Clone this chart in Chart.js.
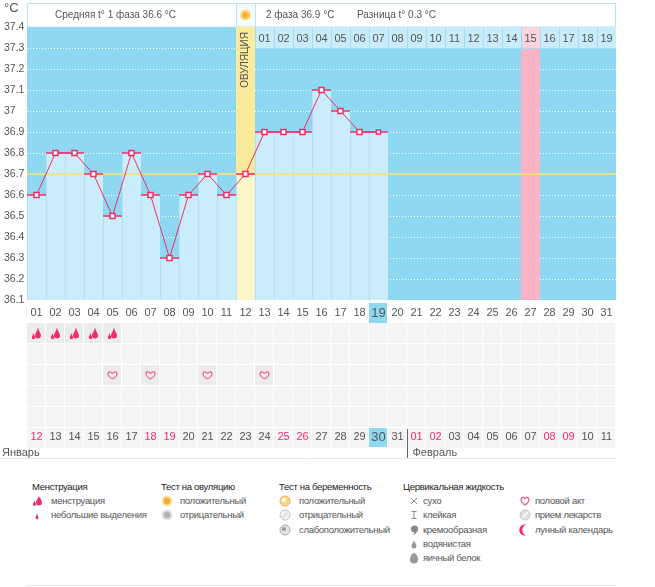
<!DOCTYPE html>
<html lang="ru">
<head>
<meta charset="utf-8">
<title>График базальной температуры</title>
<script src="https://cdn.jsdelivr.net/npm/chart.js@4.4.0/dist/chart.umd.min.js"></script>
<style>
    body { margin: 0; background: #fff; font-family: "Liberation Sans", Arial, sans-serif; }
    #wrap { position: relative; width: 655px; height: 587px; overflow: hidden; background: #fff; }
    #chartBox { position: absolute; left: 0; top: 0; width: 655px; height: 470px; }
    .unit { position: absolute; left: 4px; top: 0; font-size: 13px; line-height: 16px; color: #555; }
    .lg { position: absolute; top: 480px; font-size: 9.5px; letter-spacing: -0.3px; line-height: 14.2px; color: #555; white-space: nowrap; }
    .lg .t { color: #222; }
    .lg .i { position: relative; }
    .lg .i svg { position: absolute; top: 1px; }
    .bottomLine { position: absolute; left: 26px; top: 585px; width: 590px; height: 1px; background: #e6e6e6; }
</style>
</head>
<body>
<div id="wrap">
    <div id="chartBox"><canvas id="bbtChart"></canvas></div>
    <div class="unit">°C</div>

    <!-- Leyenda -->
    <div class="lg" style="left:32px">
        <div class="t">Менструация</div>
        <div class="i" style="padding-left:19px"><svg style="left:-1px" width="12" height="12" viewBox="0 0 12 12"><path d="M8 1C8.5 3 11 5 11 7.5A3 3 0 0 1 5 7.5C5 5 7.5 3 8 1Z" fill="#ef2f68"/><path d="M3.5 5.5C3.8 7 5 8 5 9.5A1.5 1.5 0 0 1 2 9.5C2 8 3.2 7 3.5 5.5Z" fill="#ef2f68"/></svg>менструация</div>
        <div class="i" style="padding-left:19px"><svg style="left:-1px" width="12" height="12" viewBox="0 0 12 12"><path d="M6 4.5C6.3 6 7.5 7.3 7.5 8.8A1.5 1.5 0 0 1 4.5 8.8C4.5 7.3 5.7 6 6 4.5Z" fill="#ef2f68"/></svg>небольшие выделения</div>
    </div>
    <div class="lg" style="left:161px">
        <div class="t">Тест на овуляцию</div>
        <div class="i" style="padding-left:19px"><svg style="left:0" width="12" height="12" viewBox="0 0 12 12"><circle cx="6" cy="6" r="5.5" fill="#fde3a6"/><circle cx="6" cy="6" r="3.5" fill="#f5ae38"/></svg>положительный</div>
        <div class="i" style="padding-left:19px"><svg style="left:0" width="12" height="12" viewBox="0 0 12 12"><circle cx="6" cy="6" r="5.5" fill="#e6e6e6"/><circle cx="6" cy="6" r="3.5" fill="#b3b3b3"/></svg>отрицательный</div>
    </div>
    <div class="lg" style="left:279px">
        <div class="t">Тест на беременность</div>
        <div class="i" style="padding-left:20px"><svg style="left:0" width="12" height="12" viewBox="0 0 12 12"><circle cx="6" cy="6" r="5" fill="#fcd68c" stroke="#f2b040"/><circle cx="5" cy="5" r="2" fill="#fff"/></svg>положительный</div>
        <div class="i" style="padding-left:20px"><svg style="left:0" width="12" height="12" viewBox="0 0 12 12"><circle cx="6" cy="6" r="5" fill="#f2f2f2" stroke="#c8c8c8"/><path d="M3 8L8 3M4 9L9 4" stroke="#d8d8d8"/></svg>отрицательный</div>
        <div class="i" style="padding-left:20px"><svg style="left:0" width="12" height="12" viewBox="0 0 12 12"><circle cx="6" cy="6" r="5" fill="#e4e4e4" stroke="#aaa"/><circle cx="5" cy="5" r="2" fill="#999"/></svg>слабоположительный</div>
    </div>
    <div class="lg" style="left:403px">
        <div class="t">Цервикальная жидкость</div>
        <div class="i" style="padding-left:20px"><svg style="left:5px" width="12" height="12" viewBox="0 0 12 12"><path d="M3 3L9 9M9 3L3 9" stroke="#888"/></svg>сухо</div>
        <div class="i" style="padding-left:20px"><svg style="left:5px" width="12" height="12" viewBox="0 0 12 12"><path d="M3.5 2.5H8.5M6 2.5V9.5M3.5 9.5H8.5" stroke="#888"/></svg>клейкая</div>
        <div class="i" style="padding-left:20px"><svg style="left:5px" width="12" height="12" viewBox="0 0 12 12"><circle cx="6.5" cy="5" r="3.5" fill="#888"/><path d="M9.5 6C9 9 7 10.5 4.5 11C6.5 9.5 7 8 7 7Z" fill="#888"/></svg>кремообразная</div>
        <div class="i" style="padding-left:20px"><svg style="left:5px" width="12" height="12" viewBox="0 0 12 12"><path d="M6 2.5C6.5 4.5 8.5 6 8.5 8A2.5 2.5 0 0 1 3.5 8C3.5 6 5.5 4.5 6 2.5Z" fill="#999"/></svg>водянистая</div>
        <div class="i" style="padding-left:20px"><svg style="left:5px" width="12" height="12" viewBox="0 0 12 12"><path d="M6 1C8 1 10 4.5 10 7.5A4 4 0 0 1 2 7.5C2 4.5 4 1 6 1Z" fill="#999"/></svg>яичный белок</div>
    </div>
    <div class="lg" style="left:519px">
        <div class="t">&nbsp;</div>
        <div class="i" style="padding-left:16px"><svg style="left:0" width="12" height="12" viewBox="0 0 12 12"><path d="M6 10C2 7 1.5 5 2.3 3.4C3.2 1.8 5.2 2 6 3.7C6.8 2 8.8 1.8 9.7 3.4C10.5 5 10 7 6 10Z" fill="none" stroke="#f0567f" stroke-width="1.2"/></svg>половой акт</div>
        <div class="i" style="padding-left:16px"><svg style="left:0" width="12" height="12" viewBox="0 0 12 12"><circle cx="6" cy="6" r="5" fill="#e2e2e2" stroke="#c4c4c4"/><path d="M3 9L9 3" stroke="#fff" stroke-width="1.5"/></svg>прием лекарств</div>
        <div class="i" style="padding-left:16px"><svg style="left:0" width="12" height="12" viewBox="0 0 12 12"><path d="M7.5 0.8A5.5 5.5 0 1 0 7.5 11.2A4.2 5.2 0 0 1 7.5 0.8Z" fill="#ef2f68"/></svg>лунный календарь</div>
    </div>
    <div class="bottomLine"></div>
</div>

<script>
// =========================================================
// Gráfico de temperatura basal con Chart.js
// Barras + línea de temperatura, columnas especiales y filas de notas.
// =========================================================

// --- 1. Datos ---
const dayLabels = ['01', '02', '03', '04', '05', '06', '07', '08', '09', '10', '11', '12', '13', '14', '15', '16',
    '17', '18', '19', '20', '21', '22', '23', '24', '25', '26', '27', '28', '29', '30', '31'];
const temperatures = [36.6, 36.8, 36.8, 36.7, 36.5, 36.8, 36.6, 36.3, 36.6, 36.7, 36.6, 36.7, 36.9, 36.9, 36.9, 37.1,
    37.0, 36.9, 36.9, null, null, null, null, null, null, null, null, null, null, null, null];
const lutealLabels = ['01', '02', '03', '04', '05', '06', '07', '08', '09', '10', '11', '12', '13', '14', '15', '16', '17', '18', '19'];
const dateLabels = ['12', '13', '14', '15', '16', '17', '18', '19', '20', '21', '22', '23', '24', '25', '26', '27',
    '28', '29', '30', '31', '01', '02', '03', '04', '05', '06', '07', '08', '09', '10', '11'];
const weekendDays = [1, 7, 8, 14, 15, 21, 22, 28, 29];   // columnas con fecha en rojo
const menstruationDays = [1, 2, 3, 4, 5];
const intercourseDays = [5, 7, 10, 13];
const ovulationDay = 12;
const expectedPeriodDay = 27;
const todayDay = 19;
const coverLine = 36.7;
const yMin = 36.1;
const yMax = 37.4;
const headerTexts = ['Средняя t° 1 фаза 36.6 °C', '2 фаза 36.9 °C', 'Разница t° 0.3 °C'];
const monthLabels = ['Январь', 'Февраль'];
const nextMonthStartDay = 21;

// --- 2. Estilos ---
const FONT = '"Liberation Sans", Arial, sans-serif';
const RED = '#ef2f68';
const SKY = '#8fd8f2';
const ROW_TOP = 323;
const ROW_H = 21;

// Caja de una columna (día) a partir de la escala x
function colBox(chart, day) {
    const x = chart.scales.x;
    const w = (x.right - x.left) / dayLabels.length;
    return { left: x.left + (day - 1) * w, width: w, center: x.getPixelForValue(day - 1) };
}

function drawDrop(ctx, cx, cy, r, h) {
    ctx.beginPath();
    ctx.moveTo(cx, cy - h);
    ctx.bezierCurveTo(cx + r * 0.3, cy - h * 0.5, cx + r, cy - r * 0.7, cx + r, cy);
    ctx.arc(cx, cy, r, 0, Math.PI);
    ctx.bezierCurveTo(cx - r, cy - r * 0.7, cx - r * 0.3, cy - h * 0.5, cx, cy - h);
    ctx.fill();
}

function drawHeart(ctx, cx, cy, s) {
    ctx.beginPath();
    ctx.moveTo(cx, cy + s * 0.45);
    ctx.bezierCurveTo(cx - s * 0.95, cy - s * 0.1, cx - s * 0.5, cy - s * 0.8, cx, cy - s * 0.25);
    ctx.bezierCurveTo(cx + s * 0.5, cy - s * 0.8, cx + s * 0.95, cy - s * 0.1, cx, cy + s * 0.45);
    ctx.stroke();
}

// --- 3. Plugin de decoración (cabecera, columnas especiales, filas) ---
const bbtDecor = {
    id: 'bbtDecor',
    beforeDraw(chart) {
        const { ctx, chartArea: a } = chart;
        ctx.save();
        ctx.fillStyle = '#fff';
        ctx.fillRect(0, 0, chart.width, chart.height);
        ctx.fillStyle = SKY;
        ctx.fillRect(a.left, a.top, a.right - a.left, a.bottom - a.top);

        // Cabecera
        const ov = colBox(chart, ovulationDay);
        ctx.fillStyle = '#fff';
        ctx.fillRect(a.left, 3, a.right - a.left, a.top - 3);
        ctx.fillStyle = '#f6fbfd';
        ctx.fillRect(ov.left, 3, ov.width, a.top - 3);
        ctx.strokeStyle = '#b9e3f4';
        ctx.lineWidth = 1;
        ctx.strokeRect(a.left + 0.5, 3.5, a.right - a.left - 1, a.top - 3.5);
        ctx.beginPath();
        ctx.moveTo(Math.round(ov.left) + 0.5, 3); ctx.lineTo(Math.round(ov.left) + 0.5, a.top);
        ctx.moveTo(Math.round(ov.left + ov.width) + 0.5, 3); ctx.lineTo(Math.round(ov.left + ov.width) + 0.5, a.top);
        ctx.stroke();
        const sun = ctx.createRadialGradient(ov.center, 15, 0, ov.center, 15, 6.5);
        sun.addColorStop(0, '#f6a623');
        sun.addColorStop(0.5, '#f9c24f');
        sun.addColorStop(0.75, '#fde1a0');
        sun.addColorStop(1, 'rgba(253,236,190,0)');
        ctx.fillStyle = sun;
        ctx.beginPath(); ctx.arc(ov.center, 15, 6.5, 0, Math.PI * 2); ctx.fill();

        ctx.fillStyle = '#555';
        ctx.font = '10px ' + FONT;
        ctx.textBaseline = 'middle';
        ctx.textAlign = 'left';
        ctx.fillText(headerTexts[0], 55, 15);
        ctx.fillText(headerTexts[1], 266, 15);
        ctx.fillText(headerTexts[2], 357, 15);

        // Filas de notas y fila de fechas
        for (let r = 0; r < 6; r++) {
            for (let d = 1; d <= dayLabels.length; d++) {
                const c = colBox(chart, d);
                const marked = (r === 0 && menstruationDays.includes(d)) || (r === 2 && intercourseDays.includes(d));
                ctx.fillStyle = marked ? '#ececef' : '#f4f4f6';
                ctx.fillRect(c.left, ROW_TOP + r * ROW_H, c.width - 1, ROW_H - 1);
            }
        }

        // Día actual resaltado
        const t = colBox(chart, todayDay);
        ctx.fillStyle = SKY;
        ctx.fillRect(t.left, 303, t.width - 1, 20);
        ctx.fillRect(t.left, ROW_TOP + 5 * ROW_H, t.width - 1, ROW_H - 2);
        ctx.restore();
    },
    beforeDatasetsDraw(chart) {
        const { ctx, chartArea: a } = chart;
        const y = chart.scales.y;
        ctx.save();

        // Líneas punteadas blancas en cada tick del eje y
        ctx.fillStyle = '#ffffff';
        y.ticks.forEach(tk => {
            if (tk.value > yMax - 0.05 || tk.value < yMin + 0.05) return;
            const py = Math.round(y.getPixelForValue(tk.value));
            for (let px = Math.round(a.left); px < a.right; px += 3) {
                ctx.fillRect(px, py, 1, 1);
            }
        });

        const ov = colBox(chart, ovulationDay);
        ctx.fillStyle = '#fbec9c';
        ctx.fillRect(ov.left, a.top, ov.width, a.bottom - a.top);
        const pk = colBox(chart, expectedPeriodDay);
        ctx.fillStyle = '#f8b3c5';
        ctx.fillRect(pk.left, a.top, pk.width, a.bottom - a.top);

        // Fila de días de la segunda fase
        const rowBottom = y.getPixelForValue(37.3);
        ctx.font = '11px ' + FONT;
        ctx.textAlign = 'center';
        ctx.textBaseline = 'middle';
        ctx.strokeStyle = '#a3def4';
        ctx.lineWidth = 1;
        lutealLabels.forEach((lab, i) => {
            const day = ovulationDay + 1 + i;
            const c = colBox(chart, day);
            ctx.fillStyle = day === expectedPeriodDay ? '#fbd3de' : '#c9ecfb';
            ctx.fillRect(c.left, a.top, c.width, rowBottom - a.top);
            ctx.beginPath();
            ctx.moveTo(Math.round(c.left) + 0.5, a.top);
            ctx.lineTo(Math.round(c.left) + 0.5, rowBottom);
            ctx.stroke();
            ctx.fillStyle = '#555';
            ctx.fillText(lab, c.center, (a.top + rowBottom) / 2 + 1);
        });
        ctx.beginPath();
        ctx.moveTo(colBox(chart, ovulationDay + 1).left, Math.round(rowBottom) + 0.5);
        ctx.lineTo(a.right, Math.round(rowBottom) + 0.5);
        ctx.stroke();

        // Texto vertical de ovulación
        ctx.translate(ov.center, 60);
        ctx.rotate(-Math.PI / 2);
        ctx.fillStyle = '#555';
        ctx.font = '10px ' + FONT;
        ctx.fillText('ОВУЛЯЦИЯ', 0, 0);
        ctx.restore();
    },
    afterDatasetDraw(chart, args) {
        if (args.index !== 0) return;
        const { ctx, chartArea: a } = chart;
        const yy = chart.scales.y.getPixelForValue(coverLine);
        ctx.save();
        ctx.strokeStyle = '#f7e273';
        ctx.lineWidth = 1.5;
        ctx.beginPath();
        ctx.moveTo(a.left, yy);
        ctx.lineTo(a.right, yy);
        ctx.stroke();
        ctx.restore();
    },
    afterDraw(chart) {
        const { ctx, chartArea: a } = chart;
        ctx.save();
        // Menstruación
        ctx.fillStyle = RED;
        menstruationDays.forEach(d => {
            const c = colBox(chart, d);
            const cy = ROW_TOP + ROW_H / 2;
            drawDrop(ctx, c.center + 1.5, cy + 2, 3, 8);
            drawDrop(ctx, c.center - 3, cy + 4, 1.7, 4.5);
        });
        // Acto sexual
        ctx.strokeStyle = '#f0567f';
        ctx.lineWidth = 1.1;
        intercourseDays.forEach(d => {
            const c = colBox(chart, d);
            drawHeart(ctx, c.center, ROW_TOP + 2 * ROW_H + ROW_H / 2, 8);
        });
        // Meses
        const sep = Math.round(colBox(chart, nextMonthStartDay).left) + 0.5;
        ctx.strokeStyle = '#e6e6e6';
        ctx.lineWidth = 1;
        ctx.beginPath();
        ctx.moveTo(0, 458.5); ctx.lineTo(a.right + 1, 458.5);
        ctx.stroke();
        ctx.strokeStyle = '#666';
        ctx.beginPath();
        ctx.moveTo(sep, 429); ctx.lineTo(sep, 458);
        ctx.stroke();
        ctx.fillStyle = '#555';
        ctx.font = '11px ' + FONT;
        ctx.textAlign = 'left';
        ctx.textBaseline = 'middle';
        ctx.fillText(monthLabels[0], 2, 453);
        ctx.fillText(monthLabels[1], sep + 5, 453);
        ctx.restore();
    }
};

// Ajuste fijo de los ejes horizontales (sin relleno lateral extra)
function fixHorizontal(height) {
    return s => {
        s.height = height;
        s.paddingLeft = 0;
        s.paddingRight = 0;
    };
}

// --- 4. Gráfico ---
document.addEventListener('DOMContentLoaded', () => {
    const canvas = document.getElementById('bbtChart');

    new Chart(canvas, {
        type: 'bar',
        data: {
            labels: dayLabels,
            datasets: [
                {
                    type: 'bar',
                    data: temperatures,
                    backgroundColor: c => c.dataIndex === ovulationDay - 1 ? '#fdf5cc' : '#cbedfb',
                    borderColor: '#a3def4',
                    borderWidth: { left: 1, top: 0, right: 0, bottom: 0 },
                    borderSkipped: false,
                    barPercentage: 1,
                    categoryPercentage: 1,
                    order: 3
                },
                {
                    type: 'line',
                    data: temperatures,
                    showLine: false,
                    pointStyle: 'line',
                    pointRadius: 9.5,
                    pointBorderColor: RED,
                    pointBorderWidth: 1.5,
                    order: 2
                },
                {
                    type: 'line',
                    data: temperatures,
                    borderColor: RED,
                    borderWidth: 1,
                    pointStyle: 'rect',
                    pointRadius: c => c.dataIndex === todayDay - 1 ? 3 : 3.6,
                    pointBackgroundColor: '#fff',
                    pointBorderColor: RED,
                    pointBorderWidth: 1.5,
                    order: 1
                }
            ]
        },
        options: {
            responsive: true,
            maintainAspectRatio: false,
            animation: false,
            events: [],
            layout: { padding: { top: 27, right: 39, left: 4, bottom: 0 } },
            plugins: {
                legend: { display: false },
                tooltip: { enabled: false }
            },
            scales: {
                x: {
                    offset: true,
                    grid: { display: false, drawTicks: false },
                    border: { display: false },
                    ticks: {
                        autoSkip: false,
                        maxRotation: 0,
                        padding: 6,
                        color: '#555',
                        font: c => ({ family: FONT, size: c.index === todayDay - 1 ? 13 : 11 })
                    },
                    afterFit: fixHorizontal(22)
                },
                dates: {
                    type: 'category',
                    labels: dateLabels,
                    position: 'bottom',
                    weight: 1,
                    offset: true,
                    grid: { display: false, drawTicks: false },
                    border: { display: false },
                    ticks: {
                        autoSkip: false,
                        maxRotation: 0,
                        padding: 108,
                        color: c => weekendDays.includes(c.index + 1) ? RED : '#555',
                        font: c => ({ family: FONT, size: c.index === todayDay - 1 ? 13 : 11 })
                    },
                    afterFit: fixHorizontal(148)
                },
                y: {
                    min: yMin,
                    max: yMax,
                    ticks: {
                        stepSize: 0.1,
                        crossAlign: 'far',
                        color: '#555',
                        font: { family: FONT, size: 10.5 },
                        callback: v => String(Math.round(v * 10) / 10)
                    },
                    grid: { display: false, drawTicks: false },
                    border: { display: false },
                    afterFit: s => { s.width = 23; }
                }
            }
        },
        plugins: [bbtDecor]
    });
});
</script>
</body>
</html>
